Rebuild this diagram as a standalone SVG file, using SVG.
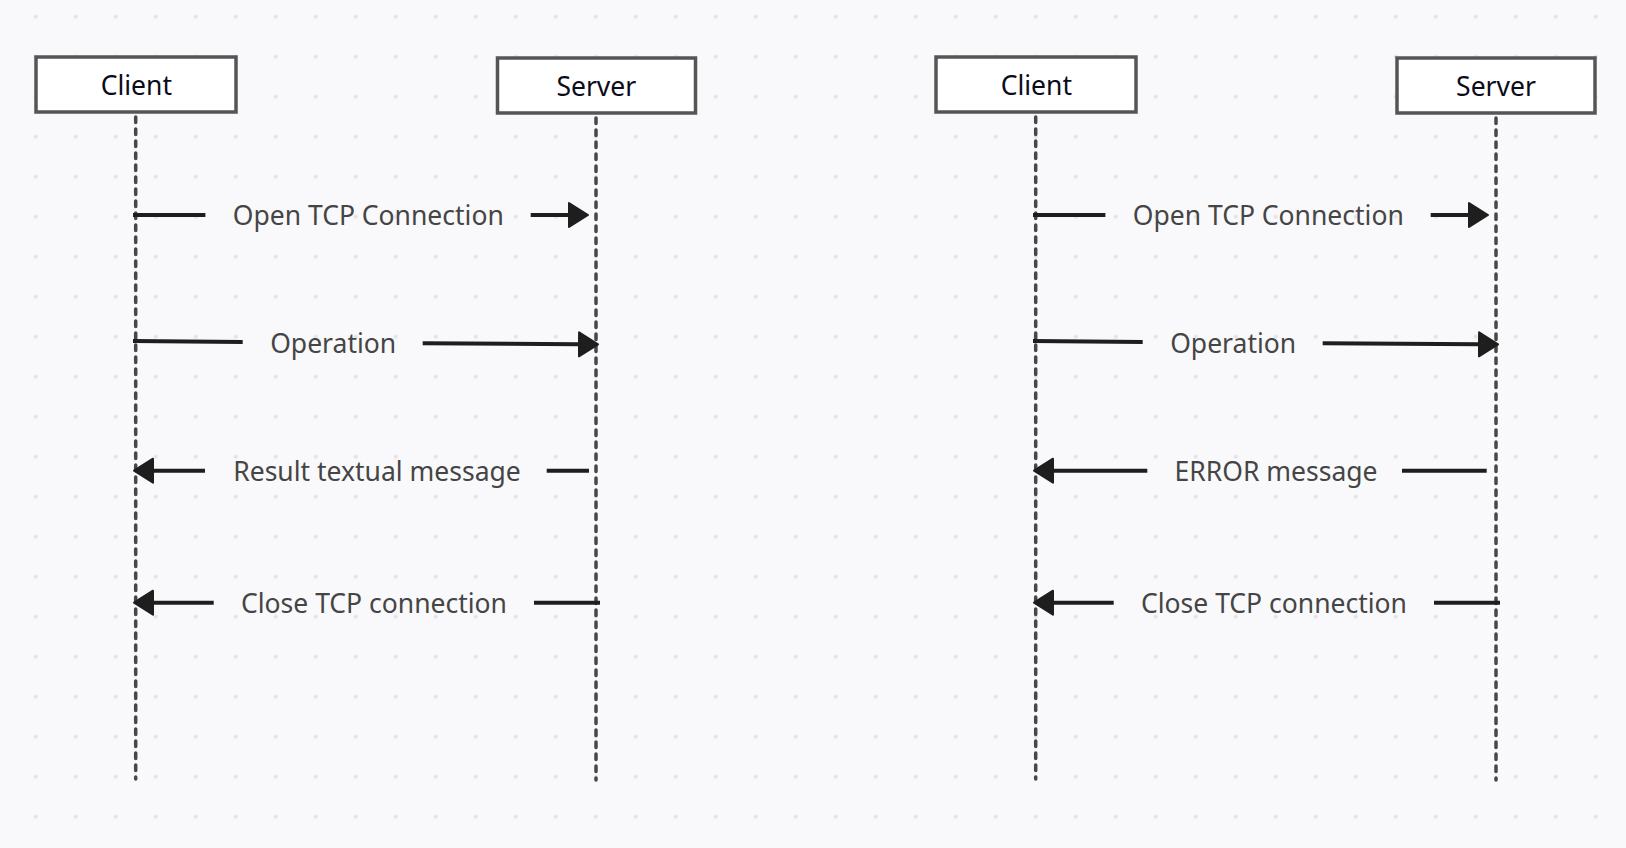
<svg xmlns="http://www.w3.org/2000/svg" width="1626" height="848" viewBox="0 0 1626 848">
<style>
.box{fill:#ffffff;stroke:#555555;stroke-width:3.5}
.boxtxt{font-family:"Noto Sans","Open Sans",sans-serif;font-size:26.5px;fill:#0b0b1a;text-anchor:middle}
.life{stroke:#474747;stroke-width:3.5;stroke-dasharray:5.5 6.5;stroke-linecap:round;fill:none}
.msg{stroke:#1e1e1e;stroke-width:4;fill:none}
.arr{marker-end:url(#head)}
.lbl{font-family:"Noto Sans","Open Sans",sans-serif;font-size:26.5px;fill:#454545;text-anchor:middle}
</style>
<defs>
<pattern id="dots" x="15.7" y="-3.3" width="40" height="40" patternUnits="userSpaceOnUse">
<circle cx="20" cy="20" r="2" fill="#e3e3e7"/>
</pattern>
<marker id="head" markerUnits="userSpaceOnUse" markerWidth="26" markerHeight="30" refX="1" refY="13" orient="auto">
<path d="M1,1 L20,13 L1,25 Z" fill="#1e1e1e" stroke="#1e1e1e" stroke-width="2" stroke-linejoin="round"/>
</marker>
</defs>
<rect width="1626" height="848" fill="#f9f9fb"/>
<rect width="1626" height="848" fill="url(#dots)"/>

<g id="lifelines">
<line class="life" x1="135.7" y1="117" x2="135.7" y2="779"/>
<line class="life" x1="596" y1="118" x2="596" y2="780"/>
<line class="life" x1="1035.7" y1="117" x2="1035.7" y2="779"/>
<line class="life" x1="1496" y1="118" x2="1496" y2="780"/>
</g>

<g id="client1">
<rect class="box" x="36" y="57" width="200" height="55"/>
<text class="boxtxt" x="136.3" y="95">Client</text>
</g>
<g id="server1">
<rect class="box" x="497.5" y="58" width="198" height="55"/>
<text class="boxtxt" x="596.3" y="96">Server</text>
</g>
<g id="client2">
<rect class="box" x="936" y="57" width="200" height="55"/>
<text class="boxtxt" x="1036.3" y="95">Client</text>
</g>
<g id="server2">
<rect class="box" x="1397" y="58" width="198" height="55"/>
<text class="boxtxt" x="1496" y="96">Server</text>
</g>

<g id="connectors">
<line class="msg" x1="133" y1="215" x2="205.4" y2="215"/>
<line class="msg arr" x1="530.7" y1="215" x2="569" y2="215"/>
<line class="msg" x1="133" y1="341" x2="242.7" y2="342"/>
<line class="msg arr" x1="422.7" y1="343.3" x2="579" y2="344.3"/>
<line class="msg arr" x1="205" y1="470.7" x2="153" y2="470.7"/>
<line class="msg" x1="546.7" y1="470.7" x2="589" y2="470.7"/>
<line class="msg arr" x1="213.7" y1="602.7" x2="153" y2="602.7"/>
<line class="msg" x1="534" y1="602.7" x2="600" y2="602.7"/>
<line class="msg" x1="1033" y1="215" x2="1105.4" y2="215"/>
<line class="msg arr" x1="1430.7" y1="215" x2="1469" y2="215"/>
<line class="msg" x1="1033" y1="341" x2="1142.7" y2="342"/>
<line class="msg arr" x1="1322.7" y1="343.3" x2="1479" y2="344.3"/>
<line class="msg arr" x1="1147.3" y1="470.7" x2="1053" y2="470.7"/>
<line class="msg" x1="1402" y1="470.7" x2="1486.7" y2="470.7"/>
<line class="msg arr" x1="1113.7" y1="602.7" x2="1053" y2="602.7"/>
<line class="msg" x1="1434" y1="602.7" x2="1500" y2="602.7"/>
</g>

<g id="labels">
<text class="lbl" x="368.3" y="225">Open TCP Connection</text>
<text class="lbl" x="333.2" y="352.5">Operation</text>
<text class="lbl" x="377" y="480.5">Result textual message</text>
<text class="lbl" x="374" y="612.5">Close TCP connection</text>
<text class="lbl" x="1268.3" y="225">Open TCP Connection</text>
<text class="lbl" x="1233.2" y="352.5">Operation</text>
<text class="lbl" x="1276" y="480.5">ERROR message</text>
<text class="lbl" x="1274" y="612.5">Close TCP connection</text>
</g>
</svg>
